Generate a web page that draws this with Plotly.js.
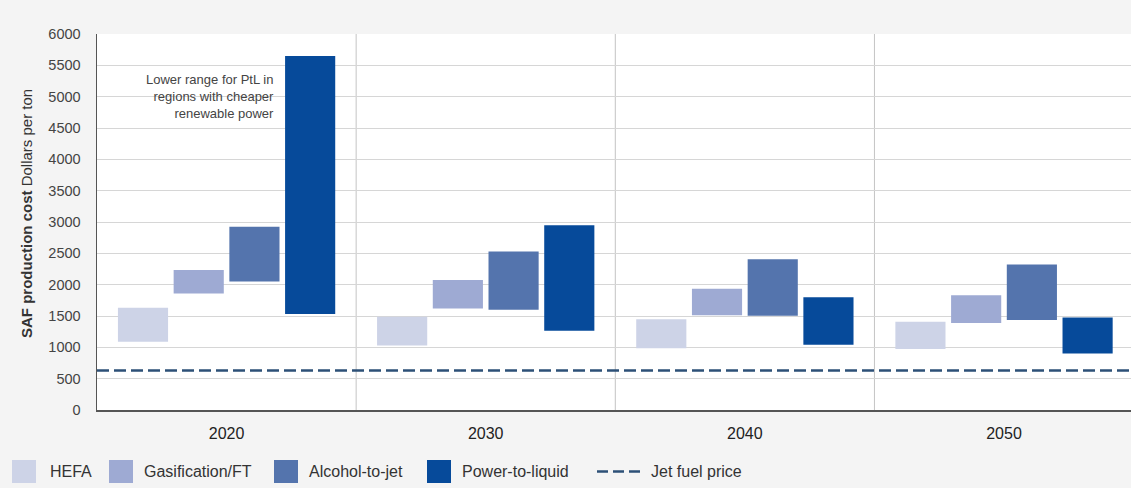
<!DOCTYPE html>
<html>
<head>
<meta charset="utf-8">
<script src="https://cdn.plot.ly/plotly-3.0.1.min.js"></script>
<style>html,body{margin:0;padding:0;background:#f4f4f4;}#chart{width:1131px;height:488px;}</style>
</head>
<body>
<div id="chart"></div>
<script>
// ---- Data ----
const years = ["2020", "2030", "2040", "2050"];
const seriesNames = ["HEFA", "Gasification/FT", "Alcohol-to-jet", "Power-to-liquid"];
const seriesColors = ["#cdd3e7", "#9eaad3", "#5474ad", "#064a9a"];
// cost ranges in dollars per ton (low / high)
const hefaLow = [1090, 1030, 985, 975];
const hefaHigh = [1630, 1490, 1450, 1410];
const gasLow = [1860, 1620, 1510, 1390];
const gasHigh = [2235, 2075, 1935, 1830];
const atjLow = [2050, 1600, 1505, 1435];
const atjHigh = [2925, 2530, 2405, 2320];
const ptlLow = [1530, 1265, 1040, 900];
const ptlHigh = [5650, 2950, 1800, 1475];
const jetFuelPrice = 630;
const yTicks = [0, 500, 1000, 1500, 2000, 2500, 3000, 3500, 4000, 4500, 5000, 5500, 6000];
const annotationText = "Lower range for PtL in<br>regions with cheaper<br>renewable power";

const lows = [hefaLow, gasLow, atjLow, ptlLow];
const highs = [hefaHigh, gasHigh, atjHigh, ptlHigh];

const traces = seriesNames.map((name, i) => ({
  type: "bar",
  name: name,
  x: years,
  base: lows[i],
  y: highs[i].map((h, j) => h - lows[i][j]),
  marker: {color: seriesColors[i], line: {width: 0}},
  showlegend: false,
  hoverinfo: "skip"
}));

const dashColor = "#2d5077";
const dashPattern = "12px,5px";
const shapes = [];
// vertical dividers between year groups
for (let k = 0; k < years.length - 1; k++) {
  shapes.push({type: "line", xref: "x", yref: "paper", x0: k + 0.5, x1: k + 0.5, y0: 0, y1: 1,
    line: {color: "#c4c4c4", width: 1}, layer: "below"});
}
// jet fuel price dashed line
shapes.push({type: "line", xref: "paper", yref: "y", x0: 0, x1: 1, y0: jetFuelPrice, y1: jetFuelPrice,
  line: {color: dashColor, width: 2.5, dash: dashPattern}});

// custom legend (pixel-like paper coordinates below the plot)
const W = 1131, H = 488, mL = 97, mR = 0, mT = 34, mB = 78;
const pw = W - mL - mR, ph = H - mT - mB;
const px = x => (x - mL) / pw;
const py = y => (H - mB - y) / ph;
const legSquares = [12, 109, 274, 427];
const legTexts = [48, 142, 307, 460];
const legY = 471.5;
const annotations = [];
legSquares.forEach((sx, i) => {
  shapes.push({type: "rect", xref: "paper", yref: "paper", x0: px(sx), x1: px(sx + 24),
    y0: py(483), y1: py(460), fillcolor: seriesColors[i], line: {width: 0}});
  annotations.push({xref: "paper", yref: "paper", x: px(legTexts[i]), y: py(legY), xanchor: "left",
    yanchor: "middle", text: seriesNames[i], showarrow: false, font: {size: 16, color: "#333"}});
});
shapes.push({type: "line", xref: "paper", yref: "paper", x0: px(597), x1: px(641), y0: py(legY), y1: py(legY),
  line: {color: dashColor, width: 2.5, dash: "11px,5px"}});
annotations.push({xref: "paper", yref: "paper", x: px(649), y: py(legY), xanchor: "left", yanchor: "middle",
  text: "Jet fuel price", showarrow: false, font: {size: 16, color: "#333"}});

// y-axis title as a rotated annotation
annotations.push({xref: "paper", yref: "paper", x: px(26), y: py(214), xanchor: "center", yanchor: "middle",
  textangle: -90, text: "<b>SAF production cost</b> Dollars per ton", showarrow: false,
  font: {size: 15, color: "#333"}});

// in-chart annotation
annotations.push({xref: "x", yref: "y", x: 0.19, y: 5000, xanchor: "right", yanchor: "middle",
  text: annotationText, showarrow: false, align: "right", font: {size: 13, color: "#444"}});

const layout = {
  width: W, height: H,
  margin: {l: mL, r: mR, t: mT, b: mB, pad: 0},
  paper_bgcolor: "#f4f4f4",
  plot_bgcolor: "#ffffff",
  font: {family: "Liberation Sans, Arial, sans-serif", color: "#333"},
  barmode: "group",
  bargap: 0.14,
  bargroupgap: 0.1,
  xaxis: {
    type: "category",
    range: [-0.5, 3.49],
    showgrid: false,
    showline: true, linecolor: "#555", linewidth: 1.5,
    ticks: "",
    tickfont: {size: 16, color: "#222"},
    ticklabelstandoff: 8,
    fixedrange: true
  },
  yaxis: {
    range: [0, 6000],
    tickvals: yTicks,
    ticktext: yTicks.map(String),
    showgrid: true, gridcolor: "#d6d6d6", gridwidth: 1,
    zeroline: false,
    showline: true, linecolor: "#555", linewidth: 1.5,
    ticks: "",
    tickfont: {size: 14.5, color: "#444"},
    ticklabelstandoff: 12,
    fixedrange: true
  },
  shapes: shapes,
  annotations: annotations,
  showlegend: false
};

Plotly.newPlot("chart", traces, layout, {displayModeBar: false, staticPlot: true});
</script>
</body>
</html>
